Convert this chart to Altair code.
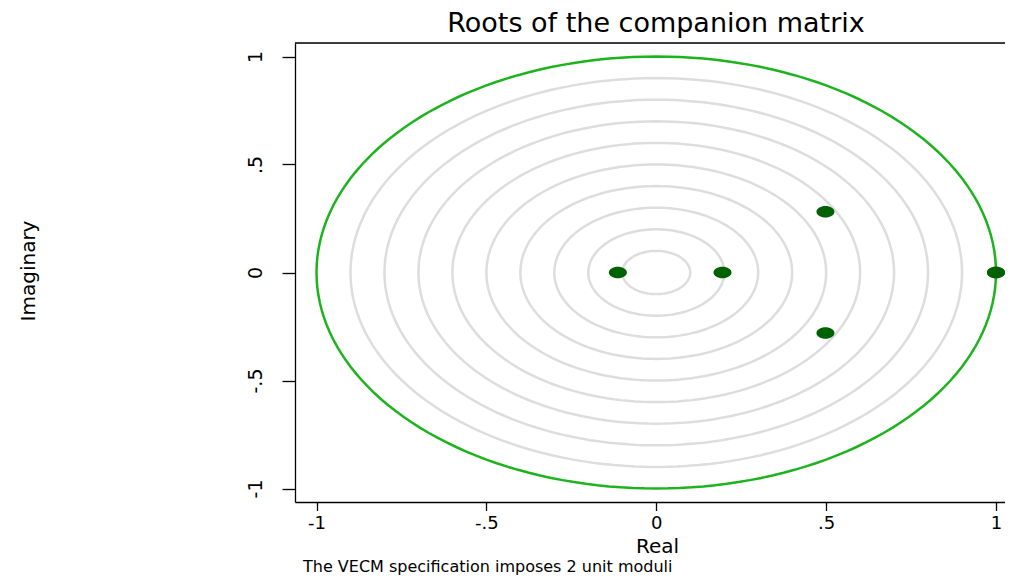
import altair as alt
import numpy as np
import pandas as pd

# ---- text ----
title_text = "Roots of the companion matrix"
x_title = "Real"
y_title = "Imaginary"
note_text = "The VECM specification imposes 2 unit moduli"

# ---- data: eigenvalues (real, imaginary) ----
root_real = [-0.113, 0.195, 0.498, 0.498, 1.0, 1.0]
root_imag = [0.0, 0.0, 0.281, -0.280, 0.0, 0.0]

# reference rings (moduli)
grid_radii = [0.1, 0.2, 0.3, 0.4, 0.5, 0.6, 0.7, 0.8, 0.9]
unit_radius = [1.0]

tick_values = [-1, -0.5, 0, 0.5, 1]

# ---- layout ----
PLOT_W = 710
PLOT_H = 459
FONT = "DejaVu Sans"

roots_df = pd.DataFrame({"re": root_real, "im": root_imag})


def ring_frame(radii):
    ang = np.deg2rad(np.arange(0, 361, 2))
    rows = []
    for r in radii:
        for k, a in enumerate(ang):
            rows.append({"r": r, "k": k, "re": r * np.cos(a), "im": r * np.sin(a)})
    return pd.DataFrame(rows)


grid_df = ring_frame(grid_radii)
unit_df = ring_frame(unit_radius)

label_expr = (
    "datum.value == 0 ? '0' : (datum.value < 0 ? '-' : '') + "
    "replace(format(abs(datum.value), '~g'), '0.', '.')"
)

X = alt.X(
    "re:Q",
    scale=alt.Scale(domain=[-1.0633, 1.0265], nice=False, zero=False),
    axis=alt.Axis(
        values=tick_values,
        labelExpr=label_expr,
        title=x_title,
        grid=False,
        domain=True,
        domainColor="black",
        domainWidth=1.3,
        ticks=True,
        tickSize=8.5,
        tickColor="black",
        tickWidth=1.3,
        labelFont=FONT,
        labelFontSize=18,
        labelColor="black",
        labelPadding=18.2,
        labelBaseline="alphabetic",
        labelAlign="center",
        labelFlush=False,
        labelOverlap=False,
        titleFont=FONT,
        titleFontSize=20,
        titleFontWeight="normal",
        titleColor="black",
        titleX=362,
        titleY=50.1,
        titleAlign="center",
        titleBaseline="alphabetic",
    ),
)

Y = alt.Y(
    "im:Q",
    scale=alt.Scale(domain=[-1.0625, 1.0625], nice=False, zero=False),
    axis=alt.Axis(
        values=tick_values,
        labelExpr=label_expr,
        title=y_title,
        grid=False,
        domain=True,
        domainColor="black",
        domainWidth=1.3,
        ticks=True,
        tickSize=13,
        tickColor="black",
        tickWidth=1.3,
        labelFont=FONT,
        labelFontSize=19,
        labelColor="black",
        labelAngle=270,
        labelAlign="center",
        labelBaseline="alphabetic",
        labelPadding=20.5,
        labelFlush=False,
        labelOverlap=False,
        titleFont=FONT,
        titleFontSize=20,
        titleFontWeight="normal",
        titleColor="black",
        titleAngle=270,
        titleX=-261,
        titleY=227.5,
        titleAlign="center",
        titleBaseline="alphabetic",
    ),
)

grid_rings = alt.Chart(grid_df).mark_line(color="#dddddd", strokeWidth=2.5).encode(
    x=X, y=Y, detail="r:N", order="k:Q"
)

unit_ring = alt.Chart(unit_df).mark_line(color="#1db31d", strokeWidth=2.5).encode(
    x="re:Q", y="im:Q", detail="r:N", order="k:Q"
)

ellipse = "M-1,0A1,0.64,0,1,1,1,0A1,0.64,0,1,1,-1,0Z"
points = alt.Chart(roots_df).mark_point(
    shape=ellipse, size=324, filled=True, color="#006100", opacity=1, strokeWidth=0
).encode(x="re:Q", y="im:Q")

top_border = alt.Chart(pd.DataFrame({"a": [0]})).mark_rule(color="black", strokeWidth=1.3).encode(
    x=alt.value(0), x2=alt.value(PLOT_W), y=alt.value(0)
)

note = alt.Chart(pd.DataFrame({"t": [note_text]})).mark_text(
    align="left", baseline="alphabetic", font=FONT, fontSize=16, color="black"
).encode(text="t:N", x=alt.value(8), y=alt.value(529.3))

chart = (
    alt.layer(grid_rings, unit_ring, points, top_border, note)
    .properties(
        width=PLOT_W,
        height=PLOT_H,
        title=alt.TitleParams(
            title_text,
            font=FONT,
            fontSize=27,
            fontWeight="normal",
            color="black",
            anchor="middle",
            frame="group",
            offset=8,
            baseline="alphabetic",
            dx=6,
            dy=25,
        ),
        autosize=alt.AutoSizeParams(type="none"),
        padding={"left": 287, "top": 35, "right": 0, "bottom": 75},
    )
    .configure_view(stroke="transparent")
    .configure(background="white")
)

chart.save("out.html", embed_options={"renderer": "svg", "actions": False})
